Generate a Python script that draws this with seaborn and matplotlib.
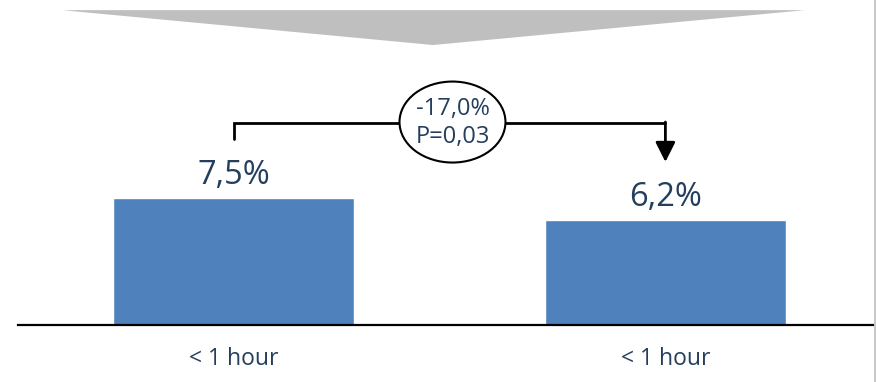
import matplotlib
matplotlib.use("Agg")
import matplotlib.pyplot as plt
from matplotlib.patches import Polygon, Ellipse
from matplotlib.lines import Line2D
import seaborn as sns
import pandas as pd

# ---- data ----
groups = ["before", "after"]
tick_labels = ["< 1 hour", "< 1 hour"]
values = [7.5, 6.2]
value_labels = ["7,5%", "6,2%"]
change_label = "-17,0%\nP=0,03"

BAR_COLOR = "#4F81BD"
TEXT_COLOR = "#243F5E"
GRAY = "#BFBFBF"

sns.set_theme(style="white")
plt.rcParams["font.family"] = ["Open Sans", "DejaVu Sans"]

W, H = 876, 382
fig = plt.figure(figsize=(W / 100, H / 100), dpi=100)
ax = fig.add_axes([18 / W, 1 - 325 / H, (874 - 18) / W, 325 / H])

df = pd.DataFrame({"group": groups, "value": values})
sns.barplot(data=df, x="group", y="value", color=BAR_COLOR, saturation=1,
            width=0.558, ax=ax, order=groups)

ax.set_xlim(-0.499, 1.483)
ax.set_ylim(0, 19.2)
ax.set_xlabel("")
ax.set_ylabel("")
ax.set_yticks([])
ax.set_xticks(range(len(groups)))
ax.set_xticklabels(tick_labels, fontsize=16.5, color=TEXT_COLOR)
ax.tick_params(axis="x", length=0, pad=16)
for s in ["top", "left", "right"]:
    ax.spines[s].set_visible(False)
ax.spines["bottom"].set_color("black")
ax.spines["bottom"].set_linewidth(1.6)

# value labels above bars
for i, (v, lab) in enumerate(zip(values, value_labels)):
    ax.text(i, v + 0.35, lab, ha="center", va="bottom", fontsize=23.5,
            color=TEXT_COLOR)

# gray downward arrow shape at the top
tri = Polygon([(-0.397, 18.6), (1.323, 18.6), (0.462, 16.54)], closed=True,
              facecolor=GRAY, edgecolor="none", clip_on=False)
ax.add_patch(tri)

# bracket connecting the two bars
y_top = 11.93
ax.plot([0, 0, 1], [10.99, y_top, y_top], color="black", lw=2,
        solid_joinstyle="miter", clip_on=False)
ax.annotate("", xy=(1, 9.63), xytext=(1, y_top + 0.06),
            arrowprops=dict(arrowstyle="-|>,head_length=0.6,head_width=0.3",
                            mutation_scale=20, lw=2, color="black",
                            shrinkA=0, shrinkB=0))

# ellipse with change label
ell = Ellipse((0.507, 11.99), width=106 / 432, height=81 / 16.93,
              facecolor="white", edgecolor="black", lw=1.5, zorder=5)
ax.add_patch(ell)
ax.text(0.507, 11.93, change_label, ha="center", va="center", fontsize=17,
        color=TEXT_COLOR, linespacing=1.2, zorder=6)

# right border line
fig.add_artist(Line2D([875 / W, 875 / W], [0, 1], transform=fig.transFigure,
                      color="#C8C8C8", lw=1.5))

fig.savefig("out.png", dpi=100)
